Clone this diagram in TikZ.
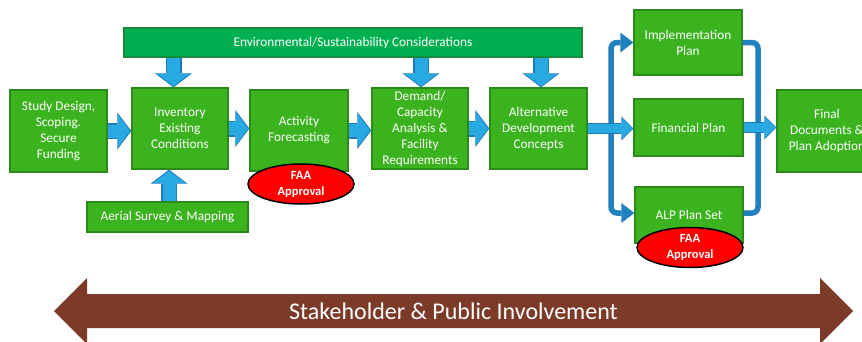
\documentclass[tikz,border=0pt]{standalone}
\usepackage{fontspec}
\setmainfont{Carlito}
\usetikzlibrary{arrows.meta,shapes.geometric,calc,positioning}

\definecolor{boxgreen}{RGB}{59,179,30}
\definecolor{boxedge}{RGB}{43,138,26}
\definecolor{envgreen}{RGB}{0,176,80}
\definecolor{envedge}{RGB}{20,140,60}
\definecolor{arrowfill}{RGB}{41,169,225}
\definecolor{arrowedge}{RGB}{30,122,185}
\definecolor{linkblue}{RGB}{33,128,190}
\definecolor{stakebrown}{RGB}{124,58,40}

\begin{document}
\begin{tikzpicture}[x=1pt,y=-1pt]
		\tikzstyle{stage}=[rectangle, draw=boxedge, fill=boxgreen, line width=1.3pt, text=white, align=center, font=\fontsize{13.3}{16}\selectfont, inner sep=1pt, minimum width=97pt, minimum height=81pt]
		\tikzstyle{faa}=[ellipse, draw=black, fill=red, line width=1.5pt, text=white, align=center, font=\bfseries\fontsize{12.5}{16}\selectfont, inner sep=0pt, minimum width=106pt, minimum height=40pt]
		\tikzstyle{bigout}=[line width=16pt, draw=arrowedge, -{Triangle[width=37pt,length=14pt,line width=0pt]}]
		\tikzstyle{bigin}=[line width=13pt, draw=arrowfill, shorten >=1.3pt, -{Triangle[width=33pt,length=12.2pt,line width=0pt]}]
		\tikzstyle{smallout}=[line width=11pt, draw=arrowedge, -{Triangle[width=24pt,length=12pt,line width=0pt]}]
		\tikzstyle{smallin}=[line width=8.5pt, draw=arrowfill, shorten >=1.1pt, -{Triangle[width=20.5pt,length=10.2pt,line width=0pt]}]
		\tikzstyle{link}=[line width=5.5pt, draw=linkblue, rounded corners=6pt]
		
		\useasboundingbox (0,0) rectangle (862,341);
		\clip (0,0) rectangle (862,341);
		
		% Stages
		\node at (58.5,131) [stage, minimum height=82pt] (study) {Study Design,\\Scoping.\\Secure\\Funding};
		\node at (180,128.5) [stage, minimum width=96pt] (inv) {Inventory\\Existing\\Conditions};
		\node at (299,130.5) [stage, minimum width=98pt] (act) {Activity\\Forecasting};
		\node at (420,128.5) [stage, minimum width=96pt] (dem) {Demand/\\Capacity\\Analysis \&\\Facility\\Requirements};
		\node at (538.5,128.5) [stage] (alt) {Alternative\\Development\\Concepts};
		
		% Plans
		\node at (688,42.5) [stage, minimum width=108pt, minimum height=65pt] (impl) {Implementation\\Plan};
		\node at (688.5,127.5) [stage, minimum width=109pt, minimum height=57pt] (fin) {Financial Plan};
		\node at (689,215) [stage, minimum width=108pt, minimum height=56pt] (alp) {ALP Plan Set};
		\node at (827,131) [stage, minimum width=100pt, minimum height=82pt] (final) {Final\\Documents \&\\Plan Adoption};
		
		% Inputs
		\node at (353,42.5) [stage, fill=envgreen, draw=envedge, minimum width=458pt, minimum height=29pt] (env) {Environmental/Sustainability Considerations};
		\node at (167.5,217) [stage, minimum width=161pt, minimum height=30pt] (aerial) {Aerial Survey \& Mapping};
		
		% Plan links
		\coordinate (split) at (611,128.5);
		\coordinate (merge) at (758,128.5);
		\draw [link, -{Triangle[width=20pt,length=13pt,line width=0pt]}] (split) |- (impl.west);
		\draw [link, -{Triangle[width=20pt,length=13pt,line width=0pt]}] (split) |- ([yshift=2pt]alp.west);
		\draw [link] (impl.east) -| (merge) |- ([yshift=2pt]alp.east);
		
		% Stage -> Stage
		\foreach \a/\b in {study/inv, inv/act, act/dem, dem/alt}
		{
		\draw [bigout] (\a.east) -- (\a.east -| \b.west);
		\draw [bigin] (\a.east) -- (\a.east -| \b.west);
		}
		\foreach \a/\b in {alt/fin, fin/final}
		{
		\draw [smallout] (\a.east) -- (\a.east -| \b.west);
		\draw [smallin] (\a.east) -- (\a.east -| \b.west);
		}
		
		% Env -> Stages
		\foreach \b/\s in {inv/-6.5, dem/1, alt/2.5}
		{
		\draw [bigout] ($(\b.north |- env.south)+(\s,0)$) -- ($(\b.north)+(\s,0)$);
		\draw [bigin] ($(\b.north |- env.south)+(\s,0)$) -- ($(\b.north)+(\s,0)$);
		}
		
		% Aerial -> Inventory
		\draw [bigout] ($(aerial.north)+(1.5,0)$) -- ($(aerial.north |- inv.south)+(1.5,0)$);
		\draw [bigin] ($(aerial.north)+(1.5,0)$) -- ($(aerial.north |- inv.south)+(1.5,0)$);
		
		% Approvals
		\node at (301,184) [faa] (faa1) {FAA\\Approval};
		\node at (690,247.5) [faa] (faa2) {FAA\\Approval};
		
		% Involvement
		\fill [stakebrown] (54,311) -- (87,278) -- (87,294) -- (820,294) -- (820,278) -- (853,311) -- (820,344) -- (820,328) -- (87,328) -- (87,344) -- cycle;
		\node at (453.5,311) [text=white, font=\fontsize{24}{28}\selectfont] (stake) {Stakeholder \& Public Involvement};
\end{tikzpicture}
\end{document}
